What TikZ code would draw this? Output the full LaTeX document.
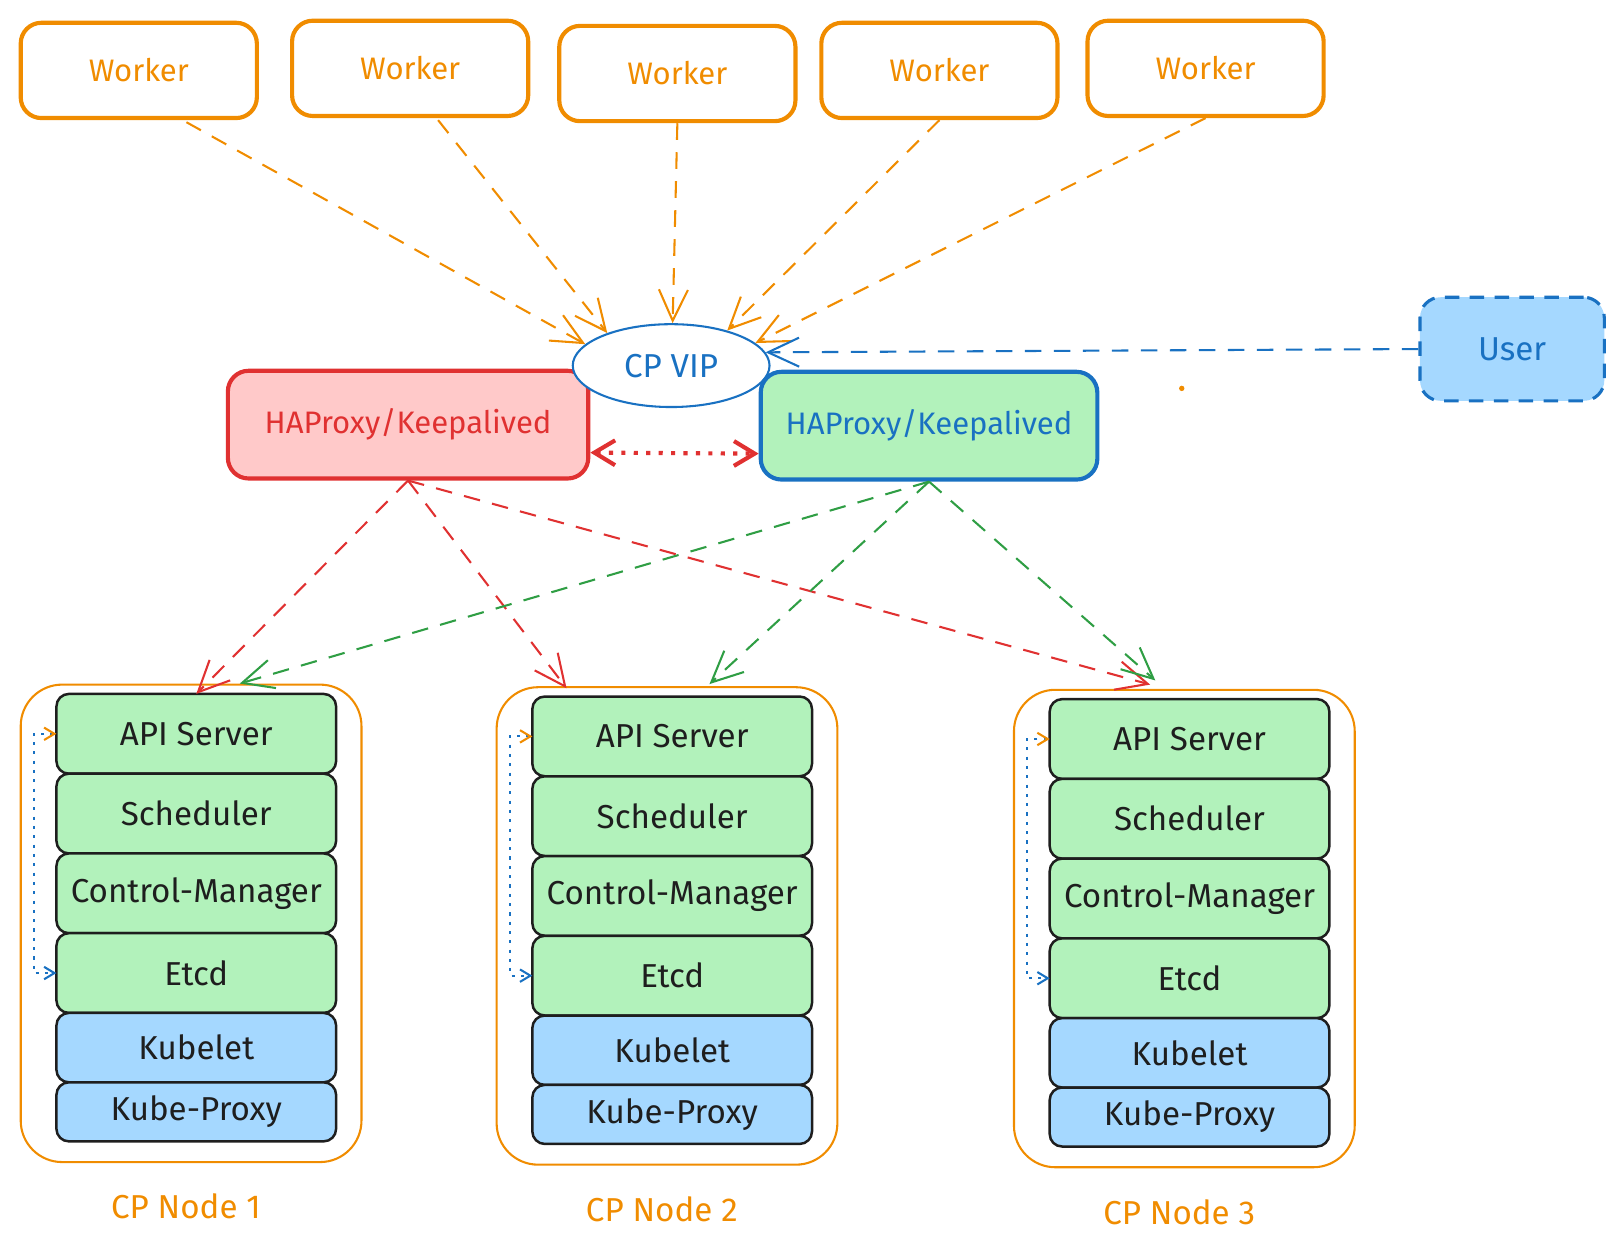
\documentclass[tikz,border=0pt]{standalone}
\usepackage{fontspec}
\setmainfont{Fira Sans}
\usetikzlibrary{arrows.meta, positioning, calc}
\usetikzlibrary{shapes.geometric}

\definecolor{exorange}{HTML}{F08C00}
\definecolor{exred}{HTML}{E03131}
\definecolor{exgreen}{HTML}{2F9E44}
\definecolor{exblue}{HTML}{1971C2}
\definecolor{exblack}{HTML}{1E1E1E}
\definecolor{lightgreen}{HTML}{B2F2BB}
\definecolor{lightblue}{HTML}{A5D8FF}
\definecolor{lightred}{HTML}{FFC9C9}

\begin{document}
\begin{tikzpicture}[
		x=0.5pt, y=-0.5pt,
		every node/.style={font=\fontsize{15}{18}\selectfont},
		worker/.style={
			rectangle,
			draw=exorange,
			line width=2pt,
			rounded corners=10pt,
			text=exorange,
			minimum width=114pt,
			minimum height=46pt
		},
		haproxy/.style={
			rectangle,
			line width=2pt,
			rounded corners=10pt,
			minimum height=52pt
		},
		cpbox/.style={
			rectangle,
			draw=exorange,
			line width=1pt,
			rounded corners=20pt,
			minimum width=164.5pt,
			minimum height=230.5pt
		},
		layer/.style={
			rectangle,
			draw=exblack,
			line width=1.2pt,
			rounded corners=6pt,
			minimum width=135pt,
			outer sep=0pt,
			text=exblack,
			font=\fontsize{16}{19}\selectfont
		},
		ctrl/.style={layer, fill=lightgreen, minimum height=38.5pt},
		agent/.style={layer, fill=lightblue},
		arrow/.style={
			-{Straight Barb[length=15pt, width=14pt]},
			line width=1pt,
			dash pattern=on 8pt off 6pt
		},
		link/.style={
			{Straight Barb[length=5pt, width=6pt, color=exorange]}-{Straight Barb[length=5pt, width=6pt]},
			exblue,
			line width=1pt,
			dash pattern=on 1.5pt off 3pt
		}
	]
	\useasboundingbox (0,0) rectangle (1568,1208);
	
	% Workers
	\node[worker] (w1) at (134,68) {Worker};
	\node[worker] (w2) at (396,66) {Worker};
	\node[worker] (w3) at (654,71) {Worker};
	\node[worker] (w4) at (907,68) {Worker};
	\node[worker] (w5) at (1164,66) {Worker};
	
	% Load balancers and VIP
	\node[haproxy, draw=exred, fill=lightred, text=exred, minimum width=174pt] (hapr) at (394,410) {HAProxy/Keepalived};
	
	\node[ellipse, draw=exblue, line width=1pt, fill=white, text=exblue,
	minimum width=95pt, minimum height=40pt, inner sep=0pt,
	font=\fontsize{16}{19}\selectfont] (vip) at (648,353) {CP VIP};
	
	\node[haproxy, draw=exblue, fill=lightgreen, text=exblue, minimum width=162.5pt] (hapg) at (897,411) {HAProxy/Keepalived};
	
	\node[rectangle, draw=exblue, fill=lightblue, text=exblue, line width=1.5pt,
	dash pattern=on 7pt off 5pt, rounded corners=10pt,
	minimum width=89pt, minimum height=50pt,
	font=\fontsize{16}{19}\selectfont] (user) at (1460,337) {User};
	
	\fill[exorange] (1141,375) circle (1.3pt);
	
	% Control plane nodes
	\foreach \i/\cx/\cy in {1/184.5/891.5, 2/644/894, 3/1143.5/896.5} {
		\node[cpbox] (cp\i) at (\cx,\cy) {};
		\node[ctrl, anchor=north] (api\i) at ($(cp\i.north)+(5,10)$) {API Server};
		\node[ctrl, below=0pt of api\i] (sched\i) {Scheduler};
		\node[ctrl, below=0pt of sched\i] (cm\i) {Control-Manager};
		\node[ctrl, below=0pt of cm\i] (etcd\i) {Etcd};
		\node[agent, minimum height=33.5pt, below=0pt of etcd\i] (kubelet\i) {Kubelet};
		\node[agent, minimum height=28.5pt, below=0pt of kubelet\i] (proxy\i) {Kube-Proxy};
		\node[text=exorange, font=\fontsize{16}{19}\selectfont] (label\i) at ($(cp\i.south)+(-5,42)$) {CP Node \i};
		
		\draw[link] (api\i.west) -- ++(-22,0) |- (etcd\i.west);
	}
	
	% Arrows (workers to VIP)
	\draw[arrow, exorange] ($(w1.south)+(46,2)$) -- (vip.166);
	\draw[arrow, exorange] ($(w2.south)+(27,2)$) -- (vip.153);
	\draw[arrow, exorange] (w3.south) -- (vip.88);
	\draw[arrow, exorange] (w4.south) -- (vip.32);
	\draw[arrow, exorange] (w5.south) -- (vip.15);
	
	% User to VIP
	\draw[arrow, exblue] (user.west) -- (vip.8);
	
	% Keepalived heartbeat
	\draw[{Straight Barb[length=10pt, width=12pt]}-{Straight Barb[length=10pt, width=12pt]},
	exred, line width=2pt, dash pattern=on 2pt off 4pt]
	($(hapr.east)!0.5!(hapr.south east)$) -- ($(hapg.west)!0.5!(hapg.south west)$);
	
	% Arrows (load balancers to API servers)
	\draw[arrow, exred] (hapr.south) -- (api1.north);
	\draw[arrow, exred] (hapr.south) -- ($(api2.north)+(-102,-8)$);
	\draw[arrow, exred] (hapr.south) -- ($(api3.north)+(-38,-14)$);
	
	\draw[arrow, exgreen] (hapg.south) -- ($(api1.north)+(42,-10)$);
	\draw[arrow, exgreen] (hapg.south) -- ($(api2.north)+(36,-12)$);
	\draw[arrow, exgreen] (hapg.south) -- ($(api3.north)+(-33,-18)$);
	
\end{tikzpicture}
\end{document}
